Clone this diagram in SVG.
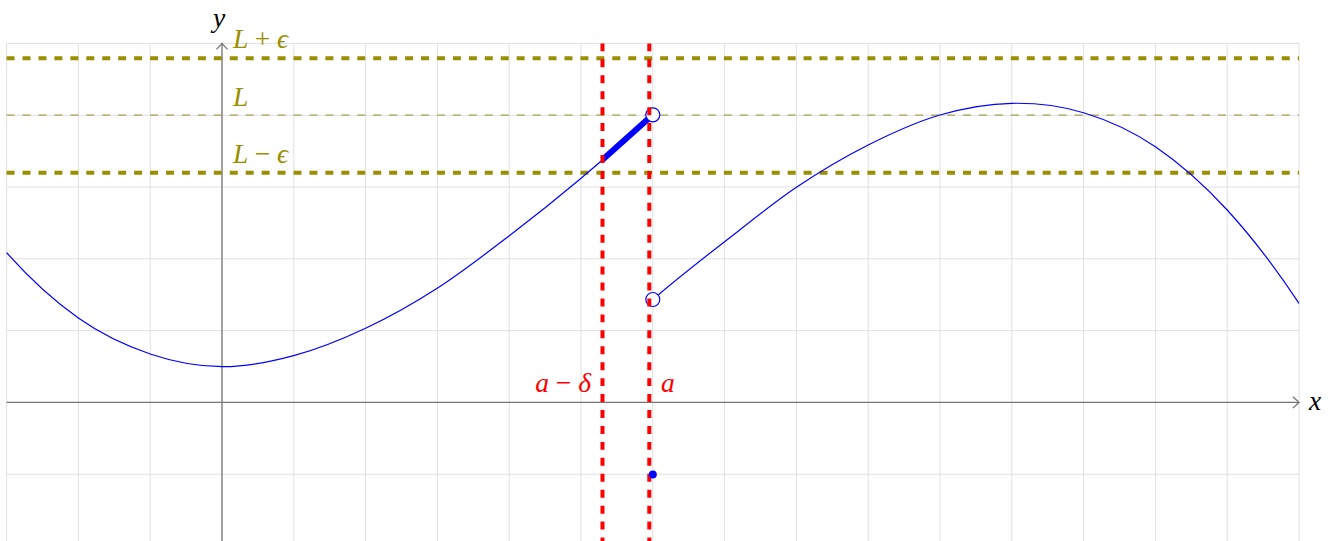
<svg xmlns="http://www.w3.org/2000/svg" width="1333" height="541" viewBox="0 0 1333 541">
<style>
.grid{stroke:#e0e0e0;stroke-width:1;fill:none}
.axis{stroke:#777;stroke-width:1.3;fill:none}
.band{stroke:#998f00;stroke-width:4;stroke-dasharray:7.97 7.97;fill:none}
.lline{stroke:#a8a050;stroke-width:1.2;stroke-dasharray:7.97 7.97;fill:none}
.redl{stroke:#ff0000;stroke-width:4;stroke-dasharray:7.97 7.97;fill:none}
.curve{stroke:#0000ff;stroke-width:1.2;fill:none}
.lbl{font-family:"Liberation Serif","DejaVu Serif",serif;font-size:27.5px;font-style:italic}
.up{font-style:normal}
</style>
<rect width="1333" height="541" fill="#ffffff"/>
<g id="grid" class="grid">
<path d="M6.6 43.4V541M78.4 43.4V541M150.2 43.4V541M222 43.4V541M293.8 43.4V541M365.6 43.4V541M437.4 43.4V541M509.2 43.4V541M581 43.4V541M652.8 43.4V541M724.6 43.4V541M796.4 43.4V541M868.2 43.4V541M940 43.4V541M1011.8 43.4V541M1083.6 43.4V541M1155.4 43.4V541M1227.2 43.4V541M1299 43.4V541"/>
<path d="M6.6 43.4H1299M6.6 115.2H1299M6.6 187H1299M6.6 258.8H1299M6.6 330.6H1299M6.6 402.4H1299M6.6 474.2H1299"/>
</g>
<g id="axes" class="axis">
<path d="M6.6 402.4H1299"/>
<path d="M1293 396.8Q1297.5 401.2 1299 402.4Q1297.5 403.6 1293 408"/>
<path d="M222 541V43.4"/>
<path d="M216.4 49.4Q220.8 44.9 222 43.4Q223.2 44.9 227.6 49.4"/>
</g>
<g id="bands">
<path class="band" d="M6.6 58.3H1299"/>
<path class="lline" d="M6.6 115.2H1299"/>
<path class="band" d="M6.6 172.8H1299"/>
</g>
<g id="curve" class="curve">
<path d="M6.6 252.7C30.6 279.6 54.77 301.42 78.7 318.3C102.63 335.18 126.32 345.93 150.2 354C174.08 362.07 198.08 366.42 222 366.7C245.92 366.98 269.77 362.1 293.7 355.7C317.63 349.3 341.68 339.53 365.6 328.3C389.52 317.07 413.3 303.68 437.2 288.3C461.1 272.92 485.37 254.05 509 236C532.63 217.95 555.05 200.12 579 180C602.95 159.88 628.13 137.97 652.8 114.8"/>
<path d="M652.8 299.5C676.63 279.13 700.67 260.2 724.6 241.7C748.53 223.2 772.47 203.42 796.4 187.3C820.33 171.18 844.27 157.05 868.2 145C892.13 132.95 916.07 121.95 940 115C963.93 108.05 987.87 103.68 1011.8 103.3C1035.73 102.92 1059.67 105.47 1083.6 112.7C1107.53 119.93 1131.47 130.48 1155.4 146.7C1179.33 162.92 1203.27 183.9 1227.2 210C1251.13 236.1 1275.07 267.3 1299 303.3"/>
<path d="M602.5 159.8L652.8 114.8" stroke-width="6"/>
</g>
<g id="open-points" fill="#ffffff" stroke="#0000ff" stroke-width="1.2">
<circle cx="652.8" cy="114.8" r="7"/>
<circle cx="652.8" cy="299.5" r="7"/>
</g>
<g id="delta-lines">
<path class="redl" d="M602.5 43.4V541"/>
<path class="redl" d="M649.3 43.4V541"/>
</g>
<g id="value-point">
<circle cx="652.8" cy="474.4" r="4" fill="#0000ff"/>
</g>
<g id="labels" class="lbl">
<text x="1309" y="410" fill="#000">x</text>
<text x="213" y="27" fill="#000">y</text>
<text x="233" y="47.7" fill="#998f00">L <tspan class="up">+</tspan> ϵ</text>
<text x="233" y="106" fill="#998f00">L</text>
<text x="233" y="163.3" fill="#998f00">L <tspan class="up">−</tspan> ϵ</text>
<text x="591" y="392" fill="#ff0000" text-anchor="end">a <tspan class="up">−</tspan> δ</text>
<text x="661" y="392" fill="#ff0000">a</text>
</g>
</svg>
